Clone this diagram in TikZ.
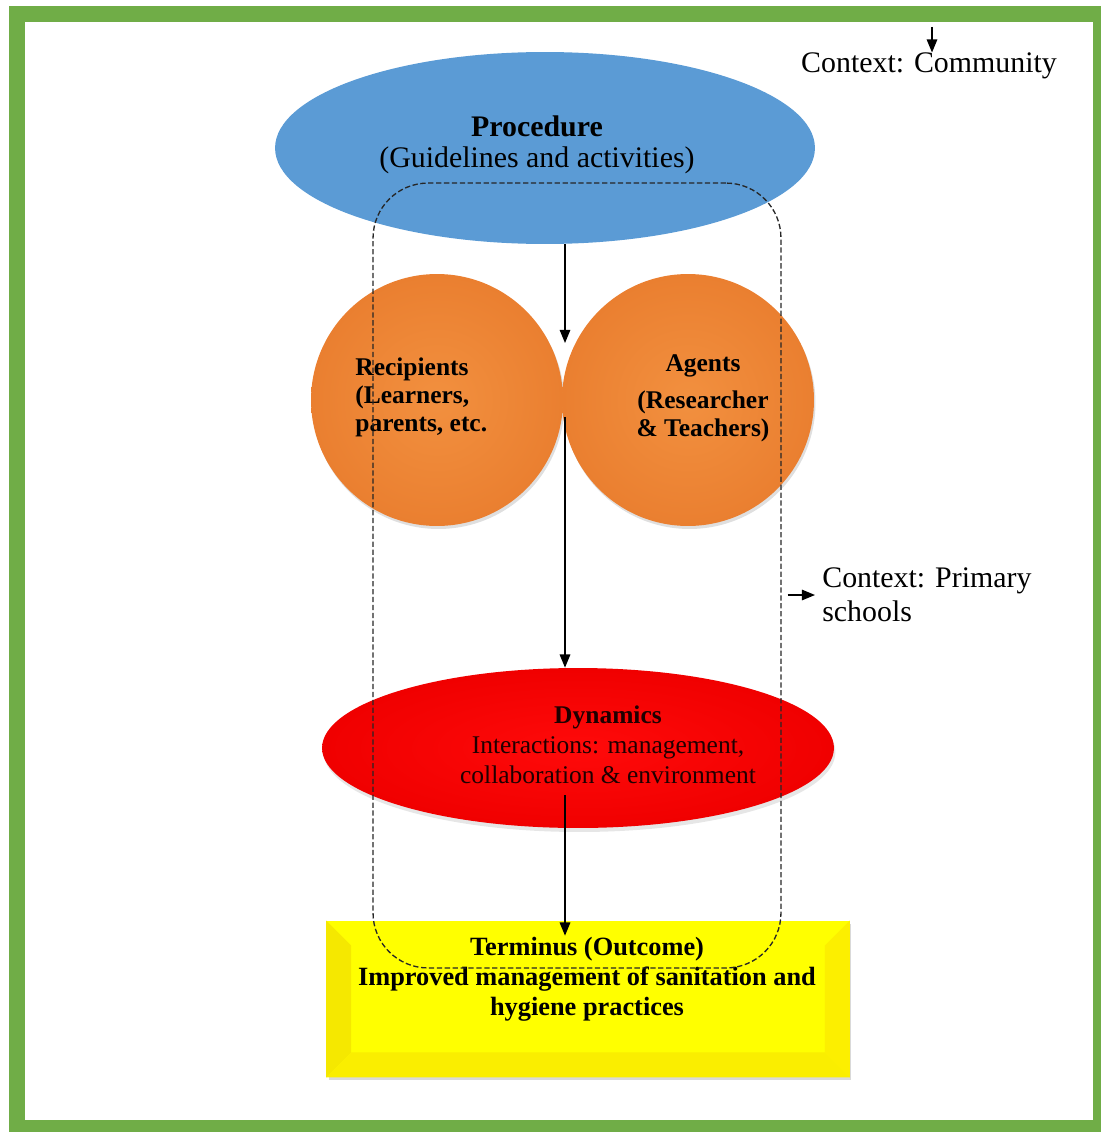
\documentclass[tikz,border=0pt]{standalone}
\usepackage{fontspec}
\setmainfont{Liberation Serif}
\usepackage{xcolor}
\usetikzlibrary{arrows.meta, shapes, positioning, shadows, calc}

\definecolor{framegreen}{HTML}{70AD47}
\definecolor{procblue}{HTML}{5B9BD5}
\definecolor{ballin}{HTML}{F2903F}
\definecolor{ballout}{HTML}{EA7F30}
\definecolor{dynin}{HTML}{FF0A0A}
\definecolor{dynout}{HTML}{F00000}
\definecolor{boxyellow}{HTML}{FFFF00}

\begin{document}
\begin{tikzpicture}[x=0.02cm, y=-0.02cm,
    >={Triangle[length=7.5pt,width=6pt]},
    flow/.style={->, line width=0.8pt},
    ball/.style={circle, minimum size=5.04cm, inner sep=0pt, shading=radial,
        inner color=ballin, outer color=ballout,
        drop shadow={opacity=0.25, shadow xshift=0.03cm, shadow yshift=-0.06cm}},
    txt/.style={inner sep=0pt, align=center, font=\fontsize{17}{18}\selectfont},
    bevel/.style={fill=#1}
]
    \useasboundingbox (0,0) rectangle (1100,1132);

    % Outer green frame
    \draw[framegreen, line width=9pt] (17,14) rectangle (1101,1128);

    % Procedure (blue ellipse)
    \node[ellipse, fill=procblue, minimum width=10.8cm, minimum height=3.84cm, inner sep=0pt]
        (procedure) at (545,148) {};

    % Recipients and agents (orange circles)
    \node[ball] (recipients) at (437,400) {};
    \node[ball] (agents) at (688,400) {};

    % Dynamics (red ellipse)
    \node[ellipse, minimum width=10.24cm, minimum height=3.2cm, inner sep=0pt,
        shading=radial, inner color=dynin, outer color=dynout,
        drop shadow={opacity=0.2, shadow xshift=0.03cm, shadow yshift=-0.08cm}]
        (dynamics) at (578,748) {};

    % Terminus (yellow bevelled box)
    \node[rectangle, fill=boxyellow, minimum width=10.46cm, minimum height=3.12cm, inner sep=0pt,
        drop shadow={opacity=0.3, shadow xshift=0.04cm, shadow yshift=-0.06cm}]
        (terminus) at (588,999) {};
    \fill[bevel=yellow!91!olive] (terminus.north west) -- ([shift={(0.5cm,-0.5cm)}]terminus.north west)
        -- ([shift={(0.5cm,0.5cm)}]terminus.south west) -- (terminus.south west) -- cycle;
    \fill[bevel=yellow!96!olive] (terminus.south west) -- ([shift={(0.5cm,0.5cm)}]terminus.south west)
        -- ([shift={(-0.5cm,0.5cm)}]terminus.south east) -- (terminus.south east) -- cycle;
    \fill[bevel=yellow!97!olive] (terminus.south east) -- ([shift={(-0.5cm,0.5cm)}]terminus.south east)
        -- ([shift={(-0.5cm,-0.5cm)}]terminus.north east) -- (terminus.north east) -- cycle;

    % Texts
    \node[txt] (proctxt) at (537,145) {{\bfseries Procedure}\\(Guidelines and activities)};
    \node[txt, align=left, anchor=west, font=\bfseries\fontsize{14.5}{15.9}\selectfont]
        (recitxt) at (355,397) {Recipients\\(Learners,\\parents, etc.};
    \node[txt, font=\bfseries\fontsize{14.5}{15.9}\selectfont]
        (agenttxt) at (703,398) {Agents\\[5pt](Researcher\\\& Teachers)};
    \node[txt, text=black!88!red, font=\fontsize{14.5}{17}\selectfont]
        (dyntxt) at (608,745) {{\bfseries Dynamics}\\Interactions: management,\\collaboration \& environment};
    \node[txt, font=\bfseries\fontsize{15}{17}\selectfont]
        (termtxt) at (587,979) {Terminus (Outcome)\\Improved management of sanitation and\\hygiene practices};
    \node[txt] (commtxt) at (929,66) {Context: Community};
    \node[txt, align=left, anchor=west, font=\fontsize{17}{19.5}\selectfont]
        (primtxt) at (822,595) {Context: Primary\\schools};

    % Flow arrows
    \coordinate (notch) at (565,343);
    \coordinate (touch) at (565,417);
    \coordinate (dynout) at (565,795);
    \draw[flow] (procedure.south -| notch) -- (notch);
    \draw[flow] (touch) -- (dynamics.north -| touch);
    \draw[flow] (dynout) -- ([yshift=-0.3cm]terminus.north -| dynout);

    % Primary schools context (dashed)
    \node[draw=black!85, dash pattern=on 3pt off 1.5pt, line width=0.75pt, rounded corners=1.1cm,
        minimum width=8.16cm, minimum height=15.7cm, inner sep=0pt] (schools) at (577,575.5) {};

    % Context arrows
    \coordinate (commtop) at (932,27);
    \draw[flow] (commtop) -- (commtop |- commtxt.north);
    \draw[flow] ([xshift=0.12cm]schools.east |- primtxt.west) -- ([xshift=-0.14cm]primtxt.west);
\end{tikzpicture}
\end{document}
